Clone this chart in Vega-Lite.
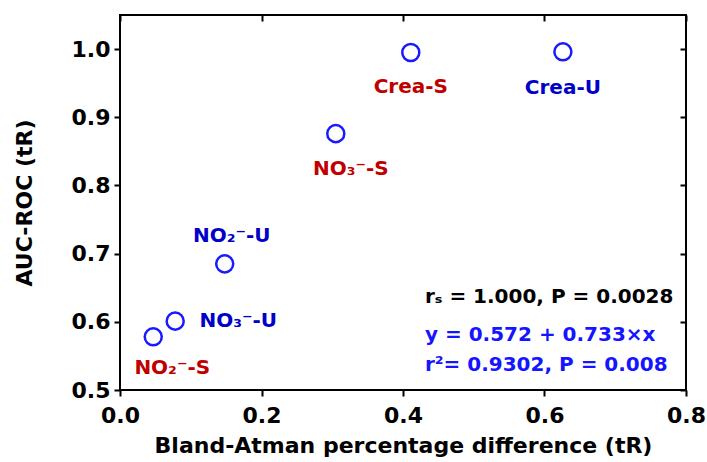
{
  "$schema": "https://vega.github.io/schema/vega-lite/v6.json",
  "width": 566,
  "height": 375,
  "autosize": "none",
  "padding": {"left": 120, "top": 15, "right": 21, "bottom": 72},
  "background": "white",
  "config": {
    "font": "DejaVu Sans",
    "view": {"stroke": "black", "strokeWidth": 2},
    "axis": {
      "labelFont": "DejaVu Sans", "labelFontWeight": "bold", "labelFontSize": 22, "labelColor": "black",
      "titleFont": "DejaVu Sans", "titleFontWeight": "bold", "titleFontSize": 22, "titleColor": "black",
      "domain": false, "grid": false, "tickColor": "black", "tickWidth": 2, "tickSize": 6, "labelFlush": false
    }
  },
  "resolve": {"axis": {"x": "independent", "y": "independent"}},
  "datasets": {
    "pts": [
      {"x": 0.047, "y": 0.578, "label": "NO₂⁻-S"},
      {"x": 0.078, "y": 0.601, "label": "NO₃⁻-U"},
      {"x": 0.148, "y": 0.685, "label": "NO₂⁻-U"},
      {"x": 0.305, "y": 0.876, "label": "NO₃⁻-S"},
      {"x": 0.411, "y": 0.995, "label": "Crea-S"},
      {"x": 0.626, "y": 0.996, "label": "Crea-U"}
    ],
    "stats": [
      {"x": 0.431, "y": 0.637, "t": "rₛ = 1.000, P = 0.0028", "g": "a"},
      {"x": 0.431, "y": 0.581, "t": "y = 0.572 + 0.733×x", "g": "b"},
      {"x": 0.431, "y": 0.537, "t": "r²= 0.9302, P = 0.008", "g": "b"}
    ]
  },
  "layer": [
    {
      "data": {"name": "pts"},
      "mark": {"type": "point", "shape": "circle", "size": 290, "stroke": "#1a1aff", "strokeWidth": 2.5, "fill": "white", "filled": false, "opacity": 1},
      "encoding": {
        "x": {"field": "x", "type": "quantitative", "scale": {"domain": [0, 0.8], "nice": false},
              "axis": {"orient": "bottom", "values": [0, 0.2, 0.4, 0.6, 0.8], "format": ".1f", "title": "Bland-Atman percentage difference (tR)", "labelPadding": 9, "titlePadding": 9}},
        "y": {"field": "y", "type": "quantitative", "scale": {"domain": [0.5, 1.05], "nice": false, "zero": false},
              "axis": {"orient": "left", "values": [0.5, 0.6, 0.7, 0.8, 0.9, 1.0], "format": ".1f", "title": "AUC-ROC (tR)", "labelPadding": 4, "titlePadding": 35}}
      }
    },
    {
      "data": {"name": "pts"},
      "mark": {"type": "point", "opacity": 0},
      "encoding": {
        "x": {"field": "x", "type": "quantitative", "axis": {"orient": "top", "values": [0, 0.2, 0.4, 0.6, 0.8], "labels": false, "title": null, "tickSize": -6}},
        "y": {"field": "y", "type": "quantitative", "axis": {"orient": "right", "values": [0.5, 0.6, 0.7, 0.8, 0.9, 1.0], "labels": false, "title": null, "tickSize": -6}}
      }
    },
    {
      "data": {"name": "pts"},
      "transform": [{"filter": "datum.label == 'Crea-S'"}],
      "mark": {"type": "text", "fontWeight": "bold", "fontSize": 20, "color": "#c00000", "dy": 34},
      "encoding": {"x": {"field": "x", "type": "quantitative", "axis": null}, "y": {"field": "y", "type": "quantitative", "axis": null}, "text": {"field": "label"}}
    },
    {
      "data": {"name": "pts"},
      "transform": [{"filter": "datum.label == 'Crea-U'"}],
      "mark": {"type": "text", "fontWeight": "bold", "fontSize": 20, "color": "#0000c8", "dy": 36},
      "encoding": {"x": {"field": "x", "type": "quantitative", "axis": null}, "y": {"field": "y", "type": "quantitative", "axis": null}, "text": {"field": "label"}}
    },
    {
      "data": {"name": "pts"},
      "transform": [{"filter": "datum.label == 'NO₃⁻-S'"}],
      "mark": {"type": "text", "fontWeight": "bold", "fontSize": 20, "color": "#c00000", "dx": 15, "dy": 35},
      "encoding": {"x": {"field": "x", "type": "quantitative", "axis": null}, "y": {"field": "y", "type": "quantitative", "axis": null}, "text": {"field": "label"}}
    },
    {
      "data": {"name": "pts"},
      "transform": [{"filter": "datum.label == 'NO₂⁻-U'"}],
      "mark": {"type": "text", "fontWeight": "bold", "fontSize": 20, "color": "#0000c8", "dx": 7, "dy": -28},
      "encoding": {"x": {"field": "x", "type": "quantitative", "axis": null}, "y": {"field": "y", "type": "quantitative", "axis": null}, "text": {"field": "label"}}
    },
    {
      "data": {"name": "pts"},
      "transform": [{"filter": "datum.label == 'NO₃⁻-U'"}],
      "mark": {"type": "text", "fontWeight": "bold", "fontSize": 20, "color": "#0000c8", "dx": 63, "dy": 0},
      "encoding": {"x": {"field": "x", "type": "quantitative", "axis": null}, "y": {"field": "y", "type": "quantitative", "axis": null}, "text": {"field": "label"}}
    },
    {
      "data": {"name": "pts"},
      "transform": [{"filter": "datum.label == 'NO₂⁻-S'"}],
      "mark": {"type": "text", "fontWeight": "bold", "fontSize": 20, "color": "#c00000", "dx": 19, "dy": 31},
      "encoding": {"x": {"field": "x", "type": "quantitative", "axis": null}, "y": {"field": "y", "type": "quantitative", "axis": null}, "text": {"field": "label"}}
    },
    {
      "data": {"name": "stats"},
      "mark": {"type": "text", "fontWeight": "bold", "fontSize": 20, "align": "left", "baseline": "middle"},
      "encoding": {
        "x": {"field": "x", "type": "quantitative", "axis": null},
        "y": {"field": "y", "type": "quantitative", "axis": null},
        "text": {"field": "t"},
        "color": {"field": "g", "type": "nominal", "scale": {"domain": ["a", "b"], "range": ["black", "#1515ff"]}, "legend": null}
      }
    }
  ]
}
